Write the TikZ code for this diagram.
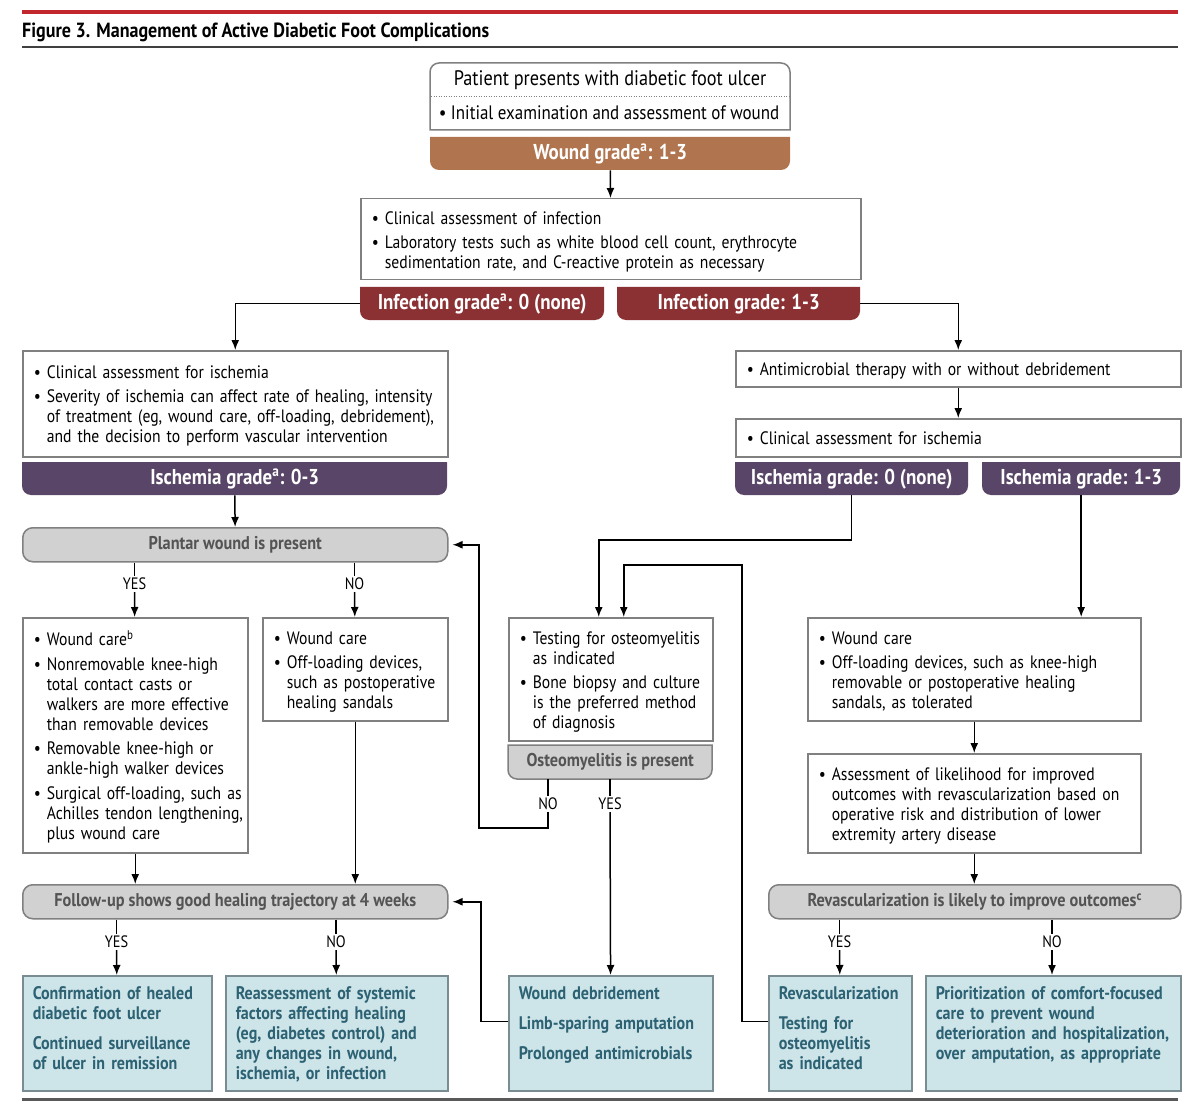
\documentclass[tikz,border=0pt]{standalone}
\usepackage{fontspec}
\setmainfont{PT Sans}[FakeStretch=0.87]
\newfontfamily\condfont{PT Sans}[FakeStretch=0.88]
\usetikzlibrary{arrows.meta}

\definecolor{rulered}{RGB}{193,39,45}
\definecolor{woundbrown}{RGB}{176,117,78}
\definecolor{infectred}{RGB}{139,49,52}
\definecolor{ischpurple}{RGB}{88,69,103}
\definecolor{boxborder}{RGB}{128,128,128}
\definecolor{decfill}{RGB}{209,209,209}
\definecolor{dectext}{RGB}{84,84,84}
\definecolor{resfill}{RGB}{205,228,232}
\definecolor{resborder}{RGB}{120,140,145}
\definecolor{restext}{RGB}{44,98,115}

\newcommand{\bodyfont}{\fontsize{18}{20}\selectfont}
\newcommand{\titlefont}{\fontsize{21}{24}\selectfont}
\newcommand{\subtitlefont}{\fontsize{19.5}{22}\selectfont}
\newcommand{\headfont}{\condfont\bfseries\fontsize{20.5}{24}\selectfont}
\newcommand{\barfont}{\condfont\bfseries\fontsize{21.5}{24}\selectfont}
\newcommand{\decfont}{\condfont\bfseries\fontsize{18.5}{20}\selectfont}
\newcommand{\resfont}{\condfont\bfseries\fontsize{18.2}{20}\selectfont}
\newcommand{\labelfont}{\fontsize{16.5}{18}\selectfont}
\newcommand{\itm}{\textbullet\ }
\newcommand{\cnt}{\hphantom{\textbullet\ }}
\newcommand{\rows}[1]{\begin{tabular}[t]{@{}l@{}}\rule{0pt}{20pt}#1\end{tabular}}

% bar with rounded bottom corners: options, x1, y1, x2, y2
\newcommand{\tabshape}[5]{%
  \path[#1] (#2,#3) -- (#4,#3) -- (#4,#3+12) [rounded corners=9pt] -- (#4,#5) -- (#2,#5) -- (#2,#3+12) [sharp corners] -- cycle;}
% box with rounded top corners: options, x1, y1, x2, y2
\newcommand{\capshape}[5]{%
  \path[#1] (#2,#5) -- (#2,#5-12) [rounded corners=9pt] -- (#2,#3) -- (#4,#3) -- (#4,#5-12) [sharp corners] -- (#4,#5) -- cycle;}

\begin{document}
\begin{tikzpicture}[x=1pt, y=-1pt]
\tikzset{
  arrow/.style={
    >={Latex[length=10pt, width=8pt]}
  },
  line/.style={
    draw,
    ->,
    line width=1.5pt
  },
  link/.style={
    draw,
    line width=1.5pt
  },
  box/.style={
    draw=boxborder, line width=1.5pt, fill=white,
    inner xsep=11pt, inner ysep=3pt,
    anchor=north west, font=\bodyfont
  },
  grade/.style={
    inner sep=0pt, anchor=north west,
    text=white, font=\barfont
  },
  decision/.style={
    draw=boxborder, line width=1.5pt, fill=decfill, rounded corners=10pt,
    inner sep=0pt, anchor=north west, text=dectext, font=\decfont
  },
  outcome/.style={
    draw=resborder, line width=1.5pt, fill=resfill,
    inner xsep=10pt, inner ysep=8pt, text height=16pt, text depth=83pt,
    anchor=north west, text=restext, font=\resfont
  },
  answer/.style={
    inner sep=2pt,
    font=\labelfont
  }
}

\useasboundingbox (0,0) rectangle (1200,1110);

% Header
\draw[rulered, line width=4pt] (22,12) -- (1178,12);
\node[anchor=base west, inner sep=0pt, font=\headfont] (title) at (22,38) {Figure 3. Management of Active Diabetic Foot Complications};
\draw[black!75, line width=1.5pt] (22,47) -- (1178,47);
\draw[black!65, line width=3pt] (22,1099) -- (1178,1099);

% Presentation
\capshape{draw=boxborder, line width=1.5pt, fill=white}{430}{63}{790}{130}
\node[font=\titlefont] (start) at (610,80) {Patient presents with diabetic foot ulcer};
\draw[boxborder, line width=1pt, dash pattern=on 1pt off 1.5pt] (431,97) -- (789,97);
\node[font=\subtitlefont] (exam) at (609,113) {\itm Initial examination and assessment of wound};
\tabshape{fill=woundbrown}{430}{137}{790}{170}
\node[grade, minimum width=360pt, minimum height=33pt] (wgrade) at (430,137) {Wound grade\textsuperscript{a}: 1-3};

% Infection
\node[box, text width=478pt, minimum height=81pt] (infect) at (360,198) {\rows{\itm Clinical assessment of infection\\[4pt]
  \itm Laboratory tests such as white blood cell count, erythrocyte\\
  \cnt sedimentation rate, and C-reactive protein as necessary}};
\tabshape{fill=infectred}{360}{287}{604}{320}
\node[grade, minimum width=244pt, minimum height=33pt] (inf0) at (360,287) {Infection grade\textsuperscript{a}: 0 (none)};
\tabshape{fill=infectred}{617}{287}{860}{320}
\node[grade, minimum width=243pt, minimum height=33pt] (inf1) at (617,287) {Infection grade: 1-3};

% No infection
\node[box, text width=403pt, minimum height=106pt] (lisch) at (22,350) {\rows{\itm Clinical assessment for ischemia\\[4pt]
  \itm Severity of ischemia can affect rate of healing, intensity\\
  \cnt of treatment (eg, wound care, off-loading, debridement),\\
  \cnt and the decision to perform vascular intervention}};
\tabshape{fill=ischpurple}{22}{462}{447}{495}
\node[grade, minimum width=425pt, minimum height=33pt] (ischA) at (22,462) {Ischemia grade\textsuperscript{a}: 0-3};
\node[decision, minimum width=425pt, minimum height=34pt] (plantar) at (22,527) {Plantar wound is present};
\node[answer] (yes1) at (134.5,584) {YES};
\node[answer] (no1) at (354.5,584) {NO};
\node[box, text width=203pt, minimum height=235pt] (wcare1) at (22,617) {\rows{\itm Wound care\textsuperscript{b}\\[4.5pt]
  \itm Nonremovable knee-high\\
  \cnt total contact casts or\\
  \cnt walkers are more effective\\
  \cnt than removable devices\\[4.5pt]
  \itm Removable knee-high or\\
  \cnt ankle-high walker devices\\[4.5pt]
  \itm Surgical off-loading, such as\\
  \cnt Achilles tendon lengthening,\\
  \cnt plus wound care}};
\node[box, text width=163pt, minimum height=103pt] (wcare2) at (262,617) {\rows{\itm Wound care\\[4.5pt]
  \itm Off-loading devices,\\
  \cnt such as postoperative\\
  \cnt healing sandals}};
\node[decision, minimum width=425pt, minimum height=34pt] (follow) at (22,884) {Follow-up shows good healing trajectory at 4 weeks};
\node[answer] (yes2) at (116.5,942) {YES};
\node[answer] (no2) at (336,942) {NO};
\node[outcome, text width=169pt] (healed) at (22,975) {\rows{Confirmation of healed\\
  diabetic foot ulcer\\[10pt]
  Continued surveillance\\
  of ulcer in remission}};
\node[outcome, text width=202pt] (reassess) at (225,975) {\rows{Reassessment of systemic\\
  factors affecting healing\\
  (eg, diabetes control) and\\
  any changes in wound,\\
  ischemia, or infection}};

% Infection grade 1-3
\node[box, text width=423pt, minimum height=36pt] (antimic) at (735,350) {\rows{\itm Antimicrobial therapy with or without debridement}};
\node[box, text width=423pt, minimum height=38pt] (rclin) at (735,418) {\rows{\itm Clinical assessment for ischemia}};
\tabshape{fill=ischpurple}{735}{462}{968}{495}
\node[grade, minimum width=233pt, minimum height=33pt] (isch0) at (735,462) {Ischemia grade: 0 (none)};
\tabshape{fill=ischpurple}{982}{462}{1180}{495}
\node[grade, minimum width=198pt, minimum height=33pt] (isch1) at (982,462) {Ischemia grade: 1-3};

% Osteomyelitis
\node[box, text width=182pt, minimum height=123pt] (osteo) at (508,617) {\rows{\itm Testing for osteomyelitis\\
  \cnt as indicated\\[4.5pt]
  \itm Bone biopsy and culture\\
  \cnt is the preferred method\\
  \cnt of diagnosis}};
\tabshape{draw=boxborder, line width=1.5pt, fill=decfill}{508}{745}{712}{779}
\node[grade, minimum width=204pt, minimum height=34pt, text=dectext, font=\decfont] (ostbar) at (508,745) {Osteomyelitis is present};
\node[answer] (no3) at (548,804) {NO};
\node[answer] (yes3) at (610,804) {YES};
\node[outcome, text width=184pt] (debride) at (508,975) {\rows{Wound debridement\\[10pt]
  Limb-sparing amputation\\[10pt]
  Prolonged antimicrobials}};

% Ischemia grade 1-3
\node[box, text width=311pt, minimum height=103pt] (wcare3) at (807,617) {\rows{\itm Wound care\\[4.5pt]
  \itm Off-loading devices, such as knee-high\\
  \cnt removable or postoperative healing\\
  \cnt sandals, as tolerated}};
\node[box, text width=311pt, minimum height=99pt] (assess) at (807,753) {\rows{\itm Assessment of likelihood for improved\\
  \cnt outcomes with revascularization based on\\
  \cnt operative risk and distribution of lower\\
  \cnt extremity artery disease}};
\node[decision, minimum width=412pt, minimum height=34pt] (revdec) at (768,884) {Revascularization is likely to improve outcomes\textsuperscript{c}};
\node[answer] (yes4) at (839.5,942) {YES};
\node[answer] (no4) at (1052,942) {NO};
\node[outcome, text width=123pt] (revasc) at (768,975) {\rows{Revascularization\\[10pt]
  Testing for\\
  osteomyelitis\\
  as indicated}};
\node[outcome, text width=235pt] (comfort) at (925,975) {\rows{Prioritization of comfort-focused\\
  care to prevent wound\\
  deterioration and hospitalization,\\
  over amputation, as appropriate}};

% Bends
\coordinate (bend0) at (851.5,540);
\coordinate (retno) at (479,828);
\coordinate (retdeb) at (481,960);
\coordinate (rettest) at (742,565);

% Connectors
\draw[line, arrow] (wgrade) -- (infect);
\draw[line, arrow] (inf0.west) -| (lisch.north);
\draw[line, arrow] (inf1.east) -| (antimic.north);
\draw[line, arrow] (antimic) -- (rclin);
\draw[line, arrow] (ischA) -- (plantar);
\draw[link] (plantar.south -| yes1) -- (yes1);
\draw[line, arrow] (yes1) -- (wcare1);
\draw[link] (plantar.south -| no1) -- (no1);
\draw[line, arrow] (no1) -- (wcare2);
\draw[line, arrow] (wcare1) -- (follow.north -| wcare1);
\draw[line, arrow] (wcare2) -- (follow.north -| wcare2);
\draw[link] (follow.south -| yes2) -- (yes2);
\draw[line, arrow] (yes2) -- (healed);
\draw[link] (follow.south -| no2) -- (no2);
\draw[line, arrow] (no2) -- (reassess);

\draw[line, arrow] (isch0.south) -- (isch0.south |- bend0) -| ([xshift=-12pt]osteo.north);
\draw[line, arrow] (isch1.south) -- (isch1.south |- wcare3.north);
\draw[line, arrow] (wcare3) -- (assess);
\draw[line, arrow] (assess.south) -- (assess.south |- revdec.north);
\draw[link] (revdec.south -| yes4) -- (yes4);
\draw[line, arrow] (yes4) -- (revasc);
\draw[link] (revdec.south -| no4) -- (no4);
\draw[line, arrow] (no4) -- (no4 |- comfort.north);

\draw[link] (ostbar.south -| no3) -- (no3);
\draw[line, arrow, shorten >=4pt] (no3) |- (retno) |- (plantar.east);
\draw[link] (ostbar.south -| yes3) -- (yes3);
\draw[line, arrow] (yes3) -- (debride);
\draw[line, arrow, shorten >=4pt] ([yshift=12pt]debride.west) -| (retdeb) |- (follow.east);
\draw[line, arrow] ([yshift=12pt]revasc.west) -| (rettest) -| ([xshift=13pt]osteo.north);

\end{tikzpicture}
\end{document}
